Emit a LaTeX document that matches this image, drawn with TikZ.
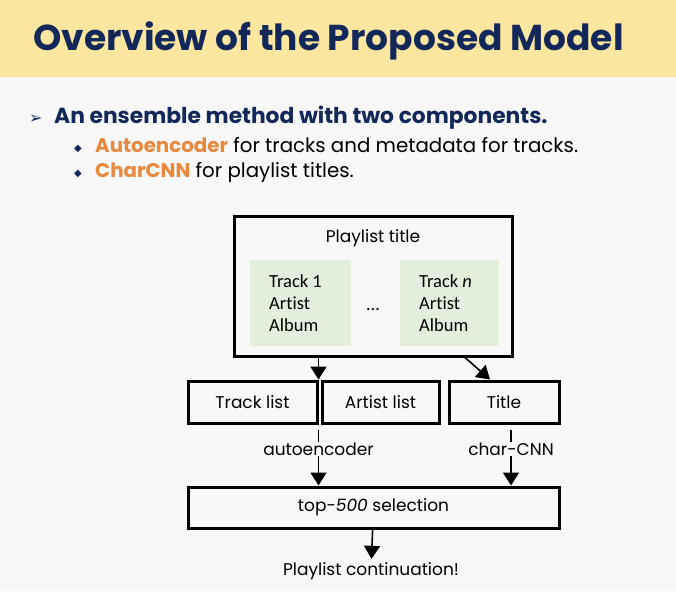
\documentclass[tikz,border=0pt]{standalone}
\usepackage{fontspec}
\setmainfont{Poppins}
\newfontfamily\calfont[Ligatures=NoCommon]{Carlito}
\newfontfamily\symfont{DejaVu Sans}
\usetikzlibrary{arrows.meta}
\definecolor{band}{HTML}{FDE6A0}
\definecolor{navy}{HTML}{13285A}
\definecolor{orng}{HTML}{E8893F}
\definecolor{leaf}{HTML}{E4EEDC}
\definecolor{paper}{HTML}{F8F8F8}

\begin{document}
\begin{tikzpicture}[x=1pt,y=-1pt,
  blk/.style={draw,line width=3pt,minimum height=42pt,inner sep=0pt,font=\fontsize{17}{19}\selectfont},
  grn/.style={fill=leaf,minimum width=101pt,minimum height=86pt},
  arr/.style={-{Triangle[length=13pt,width=16pt]},line width=1.6pt},
  lbl/.style={fill=paper,inner sep=1pt,font=\fontsize{17}{19}\selectfont}]
% slide background
\fill[paper] (0,0) rectangle (676,591);
\fill[band] (0,0) rectangle (676,77);
\node[anchor=base west,inner sep=0pt,text=navy,font=\fontsize{36}{40}\selectfont\bfseries] (head) at (33,51) {Overview of the Proposed Model};
% bullets
\node[anchor=base west,inner sep=0pt,text=navy,font=\symfont\fontsize{16}{18}\selectfont] (b0) at (29,123) {➢};
\node[anchor=base west,inner sep=0pt,text=navy,font=\fontsize{21.8}{24}\selectfont\bfseries] (l0) at (54,123) {An ensemble method with two components.};
\node[anchor=base west,inner sep=0pt,text=navy,font=\symfont\fontsize{10}{12}\selectfont] (b1) at (74,151) {◆};
\node[anchor=base west,inner sep=0pt,font=\fontsize{19.8}{22}\selectfont] (l1) at (95,152) {\textcolor{orng}{\bfseries Autoencoder} for tracks and metadata for tracks.};
\node[anchor=base west,inner sep=0pt,text=navy,font=\symfont\fontsize{10}{12}\selectfont] (b2) at (74,176) {◆};
\node[anchor=base west,inner sep=0pt,font=\fontsize{19.8}{22}\selectfont] (l2) at (95,177) {\textcolor{orng}{\bfseries CharCNN} for playlist titles.};

% input box
\node[draw,line width=3pt,minimum width=278pt,minimum height=140pt] (inp) at (373,286) {};
\node[font=\fontsize{17}{19}\selectfont] (ptitle) at (373,238) {Playlist title};
\node[grn] (g1) at (300,303) {};
\node[grn,minimum width=99pt] (gn) at (449.5,303) {};
\node[anchor=base west,inner sep=0pt,align=left,font=\calfont\fontsize{18.5}{22}\selectfont] (t1) at (269,331) {Track 1\\Artist\\Album};
\node[anchor=base west,inner sep=0pt,align=left,font=\calfont\fontsize{18.5}{22}\selectfont] (tn) at (419,331) {Track \emph{n}\\Artist\\Album};
\node[anchor=base,inner sep=0pt,font=\calfont\fontsize{18.5}{22}\selectfont] (dots) at (373,310) {…};

% lists
\node[blk,minimum width=129pt] (trk) at (252.5,402) {Track list};
\node[blk,minimum width=117pt] (art) at (380.5,402) {Artist list};
\node[blk,minimum width=110pt] (ttl) at (504,402) {Title};
\node[blk,minimum width=371pt,minimum height=41pt] (sel) at (373.5,507.5) {top-\emph{500} selection};
\node[font=\fontsize{17}{19}\selectfont] (out) at (371,571) {Playlist continuation!};

\coordinate (cc) at ([xshift=7pt]ttl.south);
\draw[arr] (inp.south -| trk.east) -- (trk.north east);
\draw[arr] ([xshift=92pt]inp.south) -- ([xshift=-14pt]ttl.north);
\draw[arr,shorten <=5pt] (trk.south east) -- node[pos=.4,lbl] {autoencoder} (trk.east |- sel.north);
\draw[arr,shorten <=5pt] (cc) -- node[pos=.4,lbl] {char-CNN} (cc |- sel.north);
\draw[arr] (sel) -- (out);
\end{tikzpicture}
\end{document}
